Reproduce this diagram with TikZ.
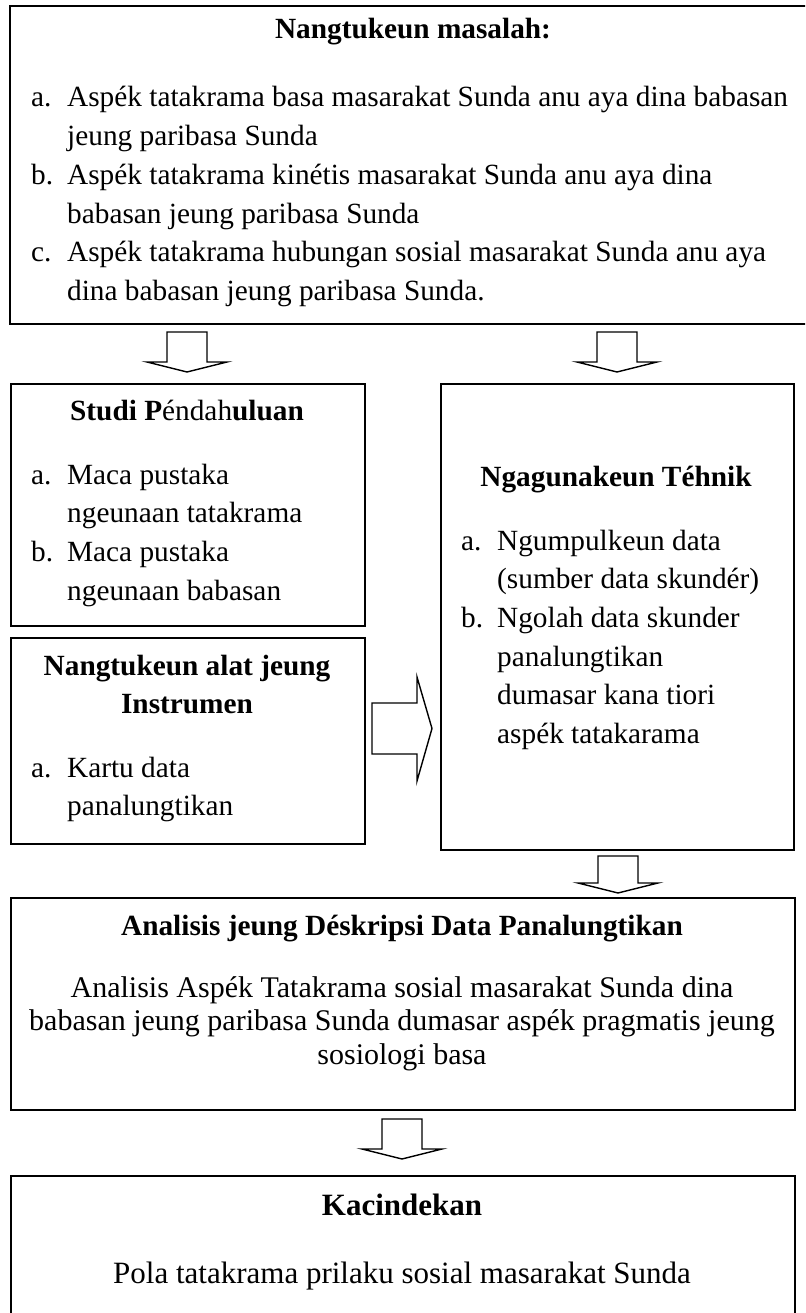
\documentclass[tikz,border=0pt]{standalone}
\usepackage{fontspec}
\setmainfont{Liberation Serif}

\begin{document}
\begin{tikzpicture}[x=1pt, y=-1pt, kotak/.style={rectangle, draw, line width=1.8pt, inner sep=0pt, anchor=north west}, teks/.style={inner sep=0pt, anchor=base west, align=left, font=\fontsize{29.3}{38.7}\selectfont}]
    \tikzset{judul/.style={inner sep=0pt, anchor=base, align=center, font=\fontsize{29.3}{38.7}\selectfont\bfseries}}
    \tikzset{panah/.style={draw, line width=1.4pt, fill=white, line join=miter}}
    \useasboundingbox (0,0) rectangle (805,1313);
    \clip (0,0) rectangle (805,1313);
    \def \ind {36pt}
    % kotak
    \node[kotak, minimum width=808, minimum height=317.5] (masalah) at (9,5.5) {};
    \node[kotak, minimum width=354, minimum height=242] (studi) at (10,383) {};
    \node[kotak, minimum width=354, minimum height=206] (alat) at (10,637) {};
    \node[kotak, minimum width=353, minimum height=466] (tehnik) at (440,383) {};
    \node[kotak, minimum width=784, minimum height=212] (analisis) at (10,897) {};
    \node[kotak, minimum width=784, minimum height=200] (kacindekan) at (10,1175) {};
    
    % Nangtukeun masalah (base = baris pamungkas)
    \node[judul] (jmasalah) at (413,39) {Nangtukeun masalah:};
    \node[teks] (ma) at (31,145.7) {\makebox[\ind][l]{a.}Aspék tatakrama basa masarakat Sunda anu aya dina babasan\\\hspace*{\ind}jeung paribasa Sunda};
    \node[teks] (mb) at (31,223.1) {\makebox[\ind][l]{b.}Aspék tatakrama kinétis masarakat Sunda anu aya dina\\\hspace*{\ind}babasan jeung paribasa Sunda};
    \node[teks] (mc) at (31,300.5) {\makebox[\ind][l]{c.}Aspék tatakrama hubungan sosial masarakat Sunda anu aya\\\hspace*{\ind}dina babasan jeung paribasa Sunda.};
    
    % Studi Pendahuluan
    \node[judul] (jstudi) at (187,420) {Studi P\textmd{éndah}uluan};
    \node[teks] (sa) at (31,522.7) {\makebox[\ind][l]{a.}Maca pustaka\\\hspace*{\ind}ngeunaan tatakrama};
    \node[teks] (sb) at (31,600.1) {\makebox[\ind][l]{b.}Maca pustaka\\\hspace*{\ind}ngeunaan babasan};
    
    % alat jeung instrumen
    \node[judul] (jalat) at (187,713.7) {Nangtukeun alat jeung\\Instrumen};
    \node[teks] (aa) at (31,815.7) {\makebox[\ind][l]{a.}Kartu data\\\hspace*{\ind}panalungtikan};
    
    % Tehnik
    \node[judul] (jtehnik) at (616,486) {Ngagunakeun Téhnik};
    \node[teks] (ta) at (461,588.7) {\makebox[\ind][l]{a.}Ngumpulkeun data\\\hspace*{\ind}(sumber data skundér)};
    \node[teks] (tb) at (461,743.5) {\makebox[\ind][l]{b.}Ngolah data skunder\\\hspace*{\ind}panalungtikan\\\hspace*{\ind}dumasar kana tiori\\\hspace*{\ind}aspék tatakarama};
    
    % Analisis
    \node[judul] (janalisis) at (402,935) {Analisis jeung Déskripsi Data Panalungtikan};
    \node[teks, anchor=base, align=center, font=\fontsize{30}{33.5}\selectfont] (analisis1) at (402,1064) {Analisis Aspék Tatakrama sosial masarakat Sunda dina\\babasan jeung paribasa Sunda dumasar aspék pragmatis jeung\\sosiologi basa};
    
    % Kacindekan
    \node[judul, font=\fontsize{31}{36}\selectfont\bfseries] (jkacindekan) at (402,1215) {Kacindekan};
    \node[teks, anchor=base, align=center, font=\fontsize{31}{36}\selectfont] (kacindekan1) at (402,1283) {Pola tatakrama prilaku sosial masarakat Sunda};
    
    % panah
    \foreach \x/\y/\l in {187/332/30, 617/332/30, 618/856/27, 402/1119/30} {
    \draw[panah] (\x-20,\y) -- (\x+20,\y) -- (\x+20,\y+\l) -- (\x+40,\y+\l) -- (\x,\y+\l+10) -- (\x-40,\y+\l) -- (\x-20,\y+\l) -- cycle;
    }
    \draw[panah] (372,703) -- (417,703) -- (417,677) -- (432,728.5) -- (417,781) -- (417,754) -- (372,754) -- cycle;
\end{tikzpicture}
\end{document}
